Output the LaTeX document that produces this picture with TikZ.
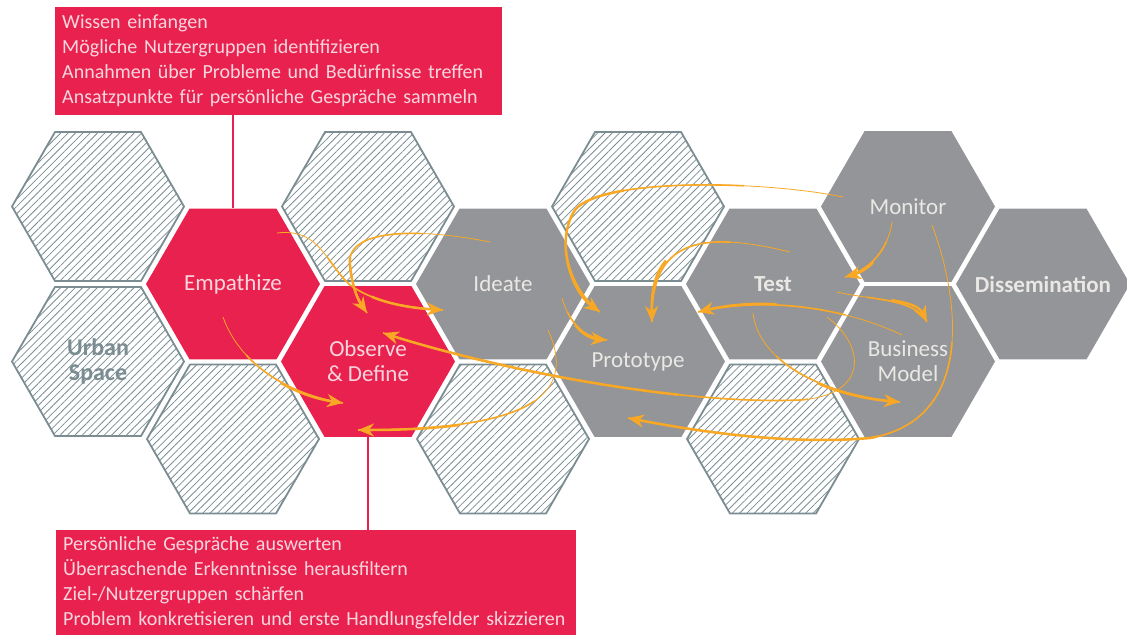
\documentclass[tikz,border=0pt]{standalone}
\usepackage{fontspec}
\setmainfont{Carlito}
\usetikzlibrary{shapes.geometric,patterns.meta,arrows.meta}
\definecolor{dtred}{RGB}{233,33,78}
\definecolor{dtgray}{RGB}{147,149,152}
\definecolor{hatchgray}{RGB}{123,141,146}
\definecolor{flow}{RGB}{248,168,36}
\definecolor{redtext}{RGB}{248,214,222}
\definecolor{graytext}{RGB}{234,232,228}
% tapered arrow: thin start, thicker from #1pt, thickest from #2pt
\newcommand{\flowarrow}[3]{%
	\draw[flowline,line width=0.8pt] #3;
	\draw[flowline,line width=1.6pt,dash pattern=on 0pt off #1pt on 3000pt] #3;
	\draw[flowline,line width=2.5pt,dash pattern=on 0pt off #2pt on 3000pt,-{Stealth[length=16pt,width=13pt,inset=5pt]}] #3;}
\begin{document}
\begin{tikzpicture}[x=1pt,y=-1pt,
	hex/.style={regular polygon,regular polygon sides=6,minimum size=174pt,inner sep=0pt},
	hexlabel/.style={align=center,inner sep=0pt,font=\fontsize{23}{25}\selectfont},
	redhex/.style={hex,fill=dtred,label={[hexlabel,text=redtext]center:#1}},
	grayhex/.style={hex,fill=dtgray,label={[hexlabel,text=graytext]center:#1}},
	hatchhex/.style={hex,minimum size=172pt,draw=hatchgray,line width=1.8pt,pattern={Lines[angle=45,distance=5.2pt,line width=0.8pt]},pattern color=hatchgray},
	infobox/.style={fill=dtred,text=redtext,anchor=north west,align=left,inner xsep=7pt,inner ysep=0pt,font=\fontsize{20}{25}\selectfont},
	flowline/.style={draw=flow,line cap=butt}
]
	\useasboundingbox (0,0) rectangle (1127,635);

	%hatched fields
	\node[hatchhex] (free1) at (98,206.5) {};
	\node[hatchhex,label={[hexlabel,text=hatchgray,font=\fontsize{24}{25}\selectfont\bfseries]center:Urban\\Space}] (urban) at (98,361.5) {};
	\node[hatchhex] (free2) at (233,439) {};
	\node[hatchhex] (free3) at (368,206.5) {};
	\node[hatchhex] (free4) at (503,439) {};
	\node[hatchhex] (free5) at (638,206.5) {};
	\node[hatchhex] (free6) at (773,439) {};

	%phases
	\node[redhex=Empathize] (empathize) at (233,284) {};
	\node[redhex={Observe\\\& Define}] (observe) at (368,361.5) {};
	\node[grayhex=Ideate] (ideate) at (503,284) {};
	\node[grayhex=Prototype] (prototype) at (638,361.5) {};
	\node[grayhex={\bfseries Test}] (test) at (773,284) {};
	\node[grayhex=Monitor] (monitor) at (908,206.5) {};
	\node[grayhex={Business\\Model}] (business) at (908,361.5) {};
	\node[grayhex={\bfseries Dissemination}] (dissemination) at (1043,284) {};

	%info boxes
	\node[infobox,text width=433pt,minimum height=108pt] (wissen) at (55,7) {Wissen einfangen\\M\"ogliche Nutzergruppen identifizieren\\Annahmen \"uber Probleme und Bed\"urfnisse treffen\\Ansatzpunkte f\"ur pers\"onliche Gespr\"ache sammeln};
	\node[infobox,text width=506pt,minimum height=105pt] (auswerten) at (56,530) {Pers\"onliche Gespr\"ache auswerten\\\"Uberraschende Erkenntnisse herausfiltern\\Ziel-/Nutzergruppen sch\"arfen\\Problem konkretisieren und erste Handlungsfelder skizzieren};
	\draw[dtred,line width=2.5pt] (wissen.south -| empathize) -- (empathize.north); %top box
	\draw[dtred,line width=2.5pt] (observe.south) -- (observe.south |- auswerten.north); %bottom box

	%arrow ends
	\coordinate (emp1) at (277,233); \coordinate (ide1) at (443,310);
	\coordinate (ide2) at (490,242); \coordinate (obs1) at (367,313);
	\coordinate (emp2) at (223,317); \coordinate (obs2) at (343,403);
	\coordinate (tes1) at (827,317); \coordinate (obs3) at (383,333);
	\coordinate (tes2) at (753,313); \coordinate (bus1) at (900,402);
	\coordinate (mon1) at (932,225); \coordinate (pro1) at (628,418);
	\coordinate (mon2) at (892,222); \coordinate (tes3) at (845,277);
	\coordinate (mon3) at (843,197); \coordinate (pro2) at (600,312);
	\coordinate (tes4) at (790,252); \coordinate (pro3) at (652,322);
	\coordinate (ide3) at (562,298); \coordinate (pro4) at (607,340);
	\coordinate (ide4) at (548,330); \coordinate (obs4) at (358,430);
	\coordinate (bus2) at (902,335); \coordinate (pro5) at (698,312);
	\coordinate (tes5) at (837,292); \coordinate (bus3) at (927,322);

	%arrows
	\flowarrow{60}{120}{(emp1) .. controls (320,228) and (325,262) .. (350,285) .. controls (375,303) and (410,308) .. (ide1)} %Empathize to Ideate
	\flowarrow{70}{150}{(ide2) .. controls (420,228) and (345,228) .. (350,265) .. controls (352,287) and (358,300) .. (obs1)} %Ideate to Observe
	\flowarrow{45}{90}{(emp2) .. controls (240,365) and (290,395) .. (obs2)} %Empathize to Observe
	\flowarrow{120}{250}{(tes1) .. controls (865,345) and (870,395) .. (800,400) .. controls (680,405) and (500,370) .. (obs3)} %Test to Observe
	\flowarrow{50}{100}{(tes2) .. controls (758,360) and (820,395) .. (bus1)} %Test to Business Model
	\flowarrow{120}{250}{(mon1) .. controls (960,300) and (975,420) .. (870,438) .. controls (790,445) and (700,432) .. (pro1)} %Monitor to Prototype
	\flowarrow{20}{45}{(mon2) .. controls (888,250) and (870,270) .. (tes3)} %Monitor to Test
	\flowarrow{100}{220}{(mon3) .. controls (760,180) and (600,178) .. (575,210) .. controls (555,240) and (570,290) .. (pro2)} %Monitor to Prototype
	\flowarrow{60}{130}{(tes4) .. controls (700,230) and (650,240) .. (pro3)} %Test to Prototype
	\flowarrow{15}{30}{(ide3) .. controls (570,325) and (585,338) .. (pro4)} %Ideate to Prototype
	\flowarrow{80}{160}{(ide4) .. controls (580,400) and (520,430) .. (obs4)} %Ideate to Observe
	\flowarrow{60}{130}{(bus2) .. controls (850,310) and (770,295) .. (pro5)} %Business Model to Prototype
	\flowarrow{30}{55}{(tes5) .. controls (870,300) and (915,298) .. (bus3)} %Test to Business Model
\end{tikzpicture}
\end{document}
